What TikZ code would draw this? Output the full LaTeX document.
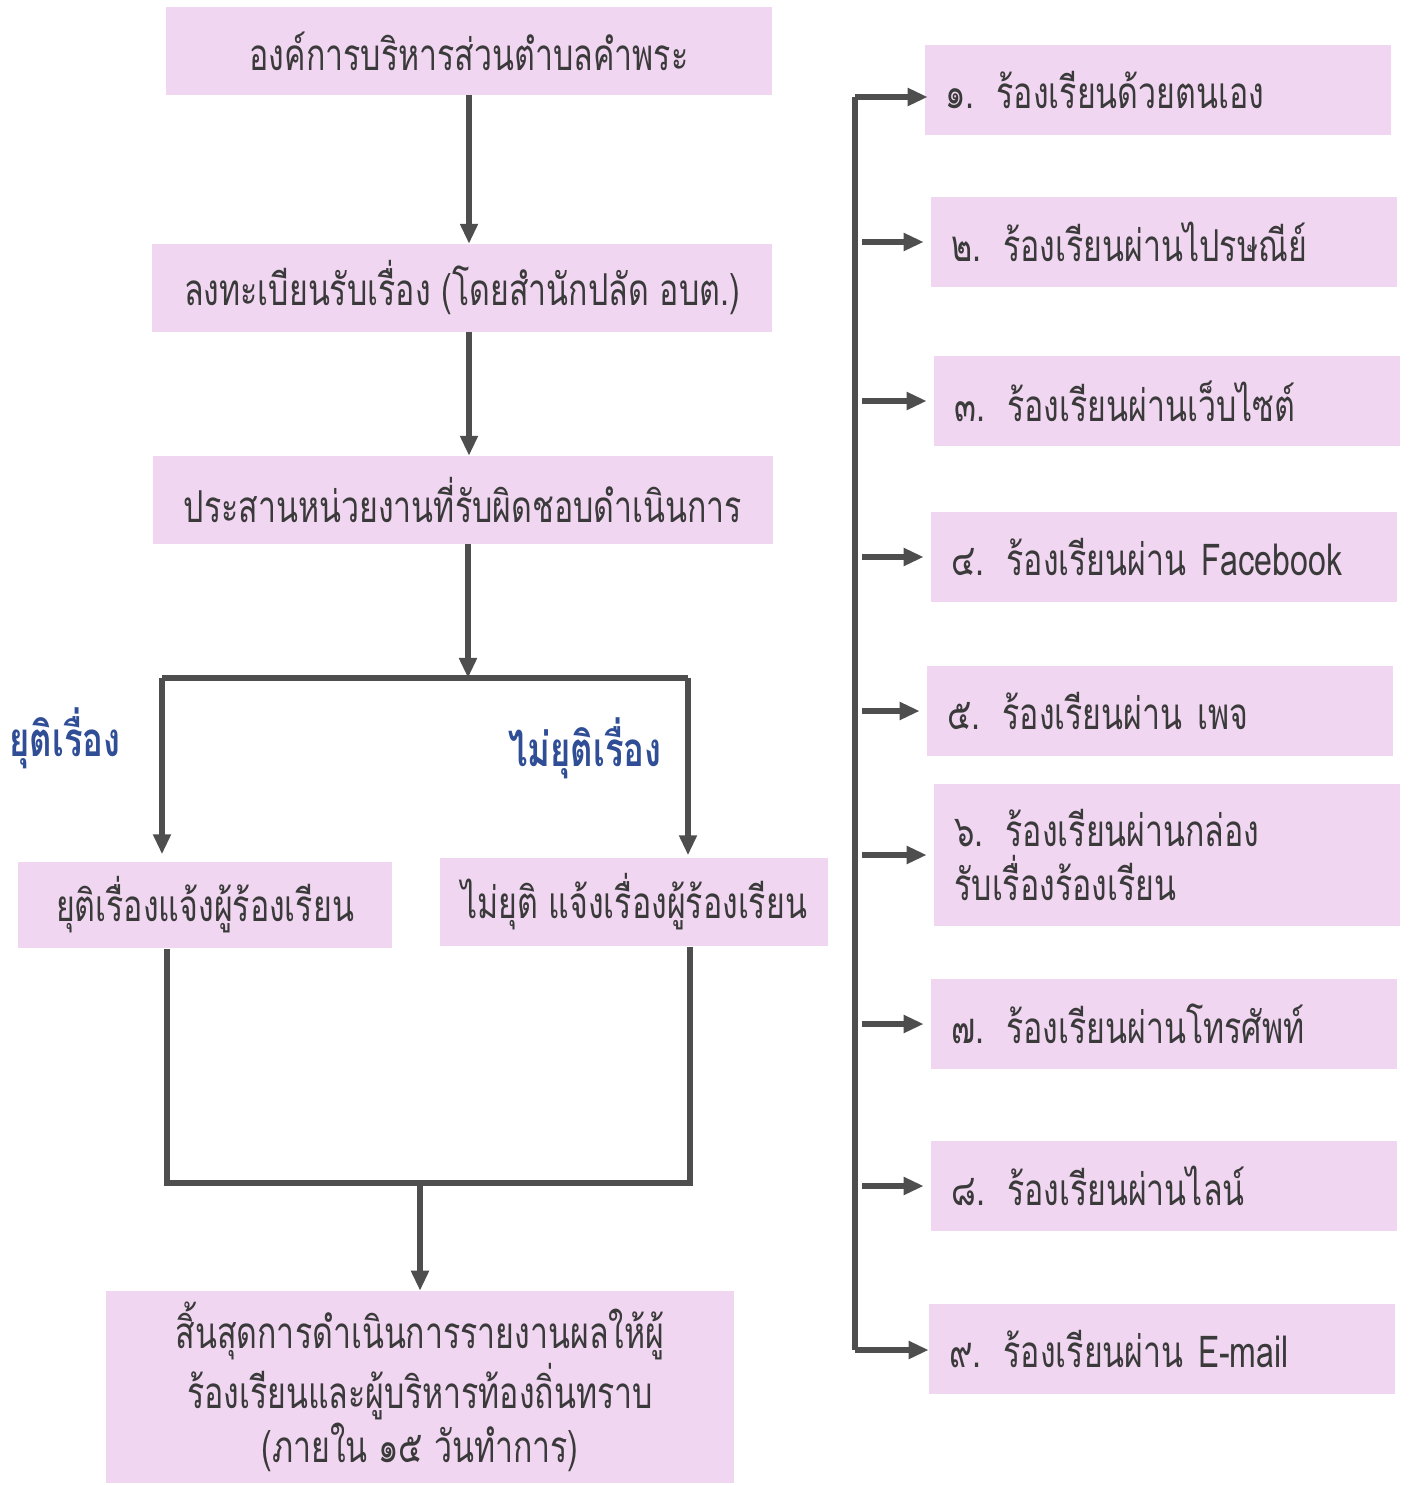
\documentclass[tikz,border=0pt]{standalone}
\usepackage{fontspec}
\newfontfamily\thaifont[Script=Thai,FakeStretch=0.73]{Loma}
\usetikzlibrary{arrows.meta}
\definecolor{boxpink}{RGB}{240,214,240}
\definecolor{linegray}{RGB}{78,78,78}
\definecolor{textgray}{RGB}{58,58,58}
\definecolor{labelblue}{RGB}{48,78,150}

\begin{document}
\begin{tikzpicture}[x=0.01cm,y=-0.01cm,
  box/.style={fill=boxpink, text=textgray, inner sep=0pt, align=center,
    font=\thaifont\fontsize{12.5}{15.4}\selectfont},
  sidebox/.style={box, align=left, inner xsep=0.2cm, text width=4.25cm,
    minimum height=0.89cm},
  lbl/.style={text=labelblue, font=\thaifont\bfseries\fontsize{13.5}{16}\selectfont},
  line/.style={draw=linegray, line width=1.5pt},
  arr/.style={line, -{Triangle[length=0.2cm,width=0.17cm]}}]
\useasboundingbox (0,0) rectangle (1410,1485);

% main column
\node[box, minimum width=6.05cm, minimum height=0.87cm] (org) at (469,51) {องค์การบริหารส่วนตำบลคำพระ};
\node[box, minimum width=6.19cm, minimum height=0.87cm] (reg) at (462,288) {ลงทะเบียนรับเรื่อง (โดยสำนักปลัด อบต.)};
\node[box, minimum width=6.2cm, minimum height=0.87cm] (coord) at (463,500) {ประสานหน่วยงานที่รับผิดชอบดำเนินการ};
\node[box, minimum width=3.74cm, minimum height=0.86cm] (stop) at (205,905) {ยุติเรื่องแจ้งผู้ร้องเรียน};
\node[box, minimum width=3.88cm, minimum height=0.88cm] (cont) at (634,902) {ไม่ยุติ แจ้งเรื่องผู้ร้องเรียน};
\node[box, minimum width=6.28cm, minimum height=1.91cm] (done) at (420,1387)
  {สิ้นสุดการดำเนินการรายงานผลให้ผู้\\ร้องเรียนและผู้บริหารท้องถิ่นทราบ\\(ภายใน ๑๕ วันทำการ)};

\node[lbl] (stoplbl) at (65,738) {ยุติเรื่อง};
\node[lbl] (contlbl) at (585,748) {ไม่ยุติเรื่อง};

\coordinate (split) at (468,678);
\coordinate (sl) at (162,678);
\coordinate (sr) at (688,678);
\coordinate (jl) at (167,1183);
\coordinate (jr) at (690,1183);
\coordinate (jm) at (420,1183);

\draw[arr] (org.south) -- (org.south |- reg.north);
\draw[arr] (reg.south -| org.south) -- (coord.north -| org.south);
\draw[arr] (coord.south -| split) -- (split);
\draw[line] (sl) -- (sr);
\draw[arr, shorten >=0.07cm] (sl) -- (sl |- stop.north);
\draw[arr, shorten >=0.02cm] (sr) -- (sr |- cont.north);
\draw[line] (stop.south -| jl) -- (jl) -- (jr) -- (cont.south -| jr);
\draw[arr] (jm) -- (done.north -| jm);

% complaint channels
\node[sidebox] (c1) at (1158,90) {๑. ร้องเรียนด้วยตนเอง};
\node[sidebox] (c2) at (1164,242) {๒. ร้องเรียนผ่านไปรษณีย์};
\node[sidebox] (c3) at (1167,401) {๓. ร้องเรียนผ่านเว็บไซต์};
\node[sidebox] (c4) at (1164,557) {๔. ร้องเรียนผ่าน Facebook};
\node[sidebox] (c5) at (1160,711) {๕. ร้องเรียนผ่าน เพจ};
\node[sidebox, minimum height=1.41cm] (c6) at (1167,855) {๖. ร้องเรียนผ่านกล่อง\\รับเรื่องร้องเรียน};
\node[sidebox] (c7) at (1164,1024) {๗. ร้องเรียนผ่านโทรศัพท์};
\node[sidebox] (c8) at (1164,1186) {๘. ร้องเรียนผ่านไลน์};
\node[sidebox] (c9) at (1162,1349) {๙. ร้องเรียนผ่าน E-mail};

\coordinate (trtop) at (855,97);
\coordinate (trbot) at (855,1350);
\draw[line] (trtop) -- (trbot);
\draw[arr, shorten >=-0.03cm] (trtop) -- (c1.west |- trtop);
\foreach \i in {2,...,8}
  \draw[arr, shorten <=0.07cm, shorten >=0.07cm] (trtop |- c\i.west) -- (c\i.west);
\draw[arr] (trbot) -- (c9.west |- trbot);
\end{tikzpicture}
\end{document}
